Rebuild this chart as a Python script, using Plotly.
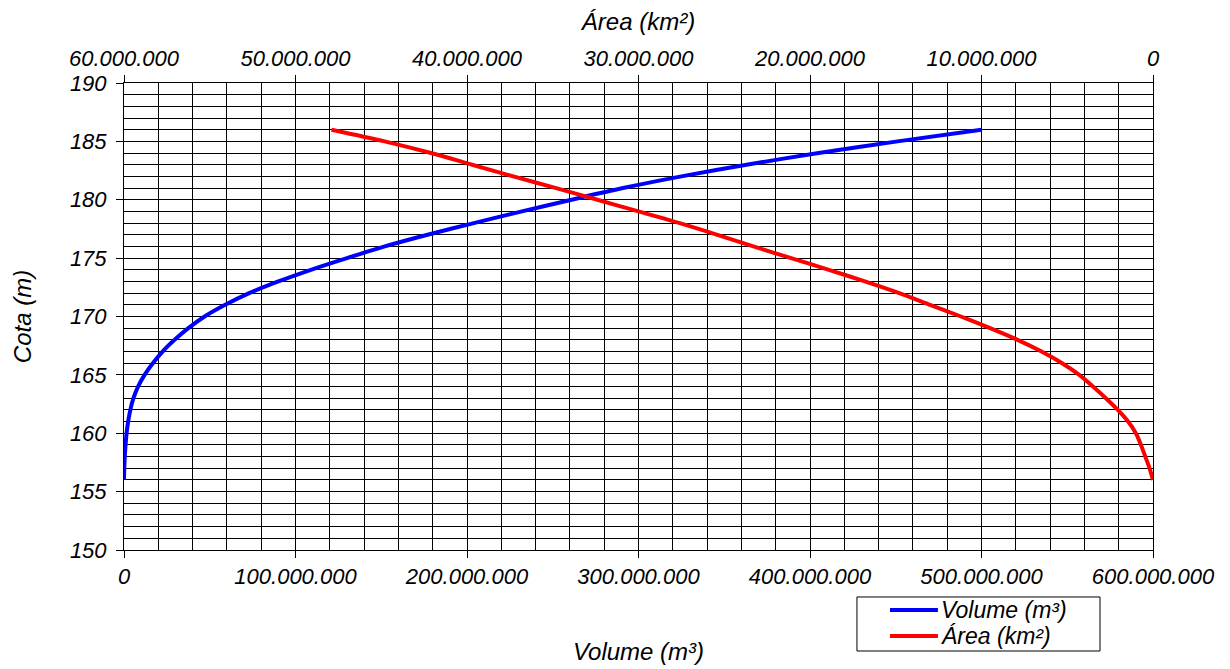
import plotly.graph_objects as go

# Cota (m)
cota = [156, 157, 158, 159, 160, 161, 162, 163, 164, 165, 166, 167, 168, 169, 170,
        171, 172, 173, 174, 175, 176, 177, 178, 179, 180, 181, 182, 183, 184, 185, 186]

# Volume (m³), in millions
volume_m = [0, 0.15, 0.45, 0.9, 1.5, 2.4, 3.7, 5.5, 8.2, 12, 16.8, 22.5, 29.5, 37.5, 47,
            59, 73, 90, 109, 130, 152, 177, 204, 232, 261, 291, 325, 363, 405, 451, 500]

# Área (km²) axis values, in millions
area_m = [0, 0.2, 0.45, 0.7, 1.0, 1.45, 2.05, 2.75, 3.5, 4.3, 5.3, 6.5, 7.9, 9.5, 11.2,
          13.0, 14.8, 16.8, 18.9, 21.1, 23.3, 25.4, 27.6, 30.0, 32.4, 34.8, 37.3, 39.7, 42.1, 44.8, 47.9]

vol_ticks = [0, 100e6, 200e6, 300e6, 400e6, 500e6, 600e6]
area_ticks = [0, 10e6, 20e6, 30e6, 40e6, 50e6, 60e6]
cota_ticks = [150, 155, 160, 165, 170, 175, 180, 185, 190]

series_names = ["Volume (m³)", "Área (km²)"]
series_colors = ["#0000FF", "#FF0000"]

volume = [v * 1e6 for v in volume_m]
area = [a * 1e6 for a in area_m]

FONT = "Liberation Sans"
TICK_FS = 22
TITLE_FS = 24
LEGEND_FS = 23

fig = go.Figure()
fig.add_trace(go.Scatter(x=volume, y=cota, mode="lines", name=series_names[0],
                         line=dict(color=series_colors[0], width=4, shape="spline", smoothing=0.8),
                         xaxis="x", yaxis="y"))
fig.add_trace(go.Scatter(x=area, y=cota, mode="lines", name=series_names[1],
                         line=dict(color=series_colors[1], width=4, shape="spline", smoothing=0.8),
                         xaxis="x2", yaxis="y"))

tick_font = dict(family=FONT, size=TICK_FS, color="black", style="italic")
title_font = dict(family=FONT, size=TITLE_FS, color="black", style="italic")
legend_font = dict(family=FONT, size=LEGEND_FS, color="black", style="italic")

# Legend box drawn below the plot (paper coordinates)
box_x0, box_x1 = 0.7123, 0.9485
box_y0, box_y1 = -0.2163, -0.1006
row_y = [-0.1285, -0.1842]
line_x0, line_x1 = 0.7444, 0.7910
text_x = 0.7925

shapes = [dict(type="rect", xref="paper", yref="paper", x0=box_x0, x1=box_x1,
               y0=box_y0, y1=box_y1, line=dict(color="black", width=1),
               fillcolor="white", layer="above")]
annotations = []
for name, color, ry in zip(series_names, series_colors, row_y):
    shapes.append(dict(type="line", xref="paper", yref="paper", x0=line_x0, x1=line_x1,
                       y0=ry, y1=ry, line=dict(color=color, width=4), layer="above"))
    annotations.append(dict(text=name, xref="paper", yref="paper", x=text_x, y=ry,
                            xanchor="left", yanchor="middle", showarrow=False,
                            font=legend_font))

# page body adds an 8px offset; the figure is sized to compensate
fig.update_layout(
    width=1222, height=661,
    margin=dict(l=116, r=77, t=75, b=119, autoexpand=False),
    paper_bgcolor="white", plot_bgcolor="white",
    separators=",.",
    font=dict(family=FONT, size=TICK_FS, color="black", style="italic"),
    showlegend=False,
    shapes=shapes,
    annotations=annotations,
    xaxis=dict(range=[0, 600e6], tickvals=vol_ticks, tickformat=",.0f",
               ticks="outside", ticklen=7, tickcolor="black", tickfont=tick_font,
               showgrid=True, gridcolor="black", gridwidth=1,
               minor=dict(dtick=20e6, showgrid=True, gridcolor="black", gridwidth=1),
               showline=True, linecolor="black", linewidth=1, mirror=False,
               zeroline=False, automargin=False,
               title=dict(text="Volume (m³)", font=title_font, standoff=54)),
    xaxis2=dict(range=[60e6, 0], tickvals=area_ticks, tickformat=",.0f",
                overlaying="x", side="top", anchor="y",
                ticks="outside", ticklen=7, tickcolor="black", tickfont=tick_font,
                showgrid=False, zeroline=False, automargin=False,
                showline=True, linecolor="black", linewidth=1,
                title=dict(text="Área (km²)", font=title_font, standoff=15)),
    yaxis=dict(range=[150, 190], tickvals=cota_ticks,
               ticks="outside", ticklen=7, tickcolor="black", tickfont=tick_font,
               ticklabelstandoff=5,
               showgrid=True, gridcolor="black", gridwidth=1,
               minor=dict(dtick=1, showgrid=True, gridcolor="black", gridwidth=1),
               showline=True, linecolor="black", linewidth=1, mirror=True,
               zeroline=False, automargin=False,
               title=dict(text="Cota (m)", font=title_font, standoff=31)),
)

fig.write_html("out.html")
